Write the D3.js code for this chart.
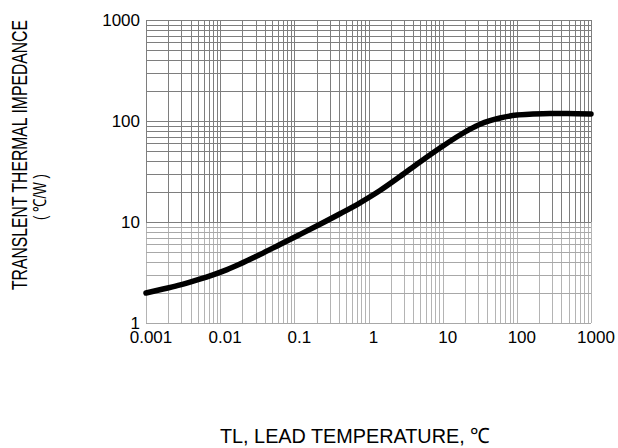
<!DOCTYPE html>
<html><head><meta charset="utf-8">
<script src="https://cdn.jsdelivr.net/npm/d3@7"></script>
<style>body{margin:0;background:#fff}svg{display:block}text{font-family:"Liberation Sans",Arial,sans-serif;fill:#000}</style>
</head><body>
<svg id="c" width="618" height="448"></svg>
<script>
const xTicks = [0.001, 0.01, 0.1, 1, 10, 100, 1000];
const xTickLabels = ["0.001", "0.01", "0.1", "1", "10", "100", "1000"];
const yTicks = [1, 10, 100, 1000];
const yTickLabels = ["1", "10", "100", "1000"];
const curveX = [0.001, 0.0017, 0.0029, 0.0049, 0.008, 0.0124, 0.0185, 0.0344, 0.064, 0.119, 0.222, 0.413, 0.768, 1.43, 2.66, 4.95, 9.2, 17.1, 23.4, 31.9, 43.5, 59.3, 100, 165, 280, 475, 1000];
const curveY = [1.98, 2.17, 2.38, 2.67, 3.0, 3.38, 3.84, 4.77, 5.99, 7.52, 9.49, 12.06, 15.5, 20.5, 28.2, 39.3, 54, 72.7, 83, 93, 100.9, 107, 114.7, 117.3, 118.7, 118.7, 117.3];
const yTitle = "TRANSLENT THERMAL IMPEDANCE";
const yUnit = "( \u2103/W )";
const xTitle = "TL, LEAD TEMPERATURE, \u2103";

const svg = d3.select("#c");
const L = 146, R = 591, T = 20, B = 323;
const x = d3.scaleLog().domain([0.001, 1000]).range([L, R]);
const y = d3.scaleLog().domain([1, 1000]).range([B, T]);

const xGrid = [];
for (let e = -3; e < 3; e++) for (let m = 1; m < 10; m++) xGrid.push(m * Math.pow(10, e));
xGrid.push(1000);
const yGrid = [];
for (let e = 0; e < 3; e++) for (let m = 1; m < 10; m++) yGrid.push(m * Math.pow(10, e));
yGrid.push(1000);

const g = svg.append("g").attr("shape-rendering", "crispEdges");
g.selectAll(".vl").data(xGrid).join("line")
  .attr("x1", d => Math.round(x(d)) + 0.5).attr("x2", d => Math.round(x(d)) + 0.5)
  .attr("y1", y(10)).attr("y2", B)
  .attr("stroke", "#b4b4b4").attr("stroke-width", 1);
g.selectAll(".vu").data(xGrid).join("line")
  .attr("x1", d => Math.round(x(d)) + 0.5).attr("x2", d => Math.round(x(d)) + 0.5)
  .attr("y1", T).attr("y2", y(10))
  .attr("stroke", "#7e7e7e").attr("stroke-width", 1);
g.selectAll(".hl").data(yGrid).join("line")
  .attr("x1", L).attr("x2", R)
  .attr("y1", d => Math.round(y(d)) + 0.5).attr("y2", d => Math.round(y(d)) + 0.5)
  .attr("stroke", d => d < 10 ? "#a8a8a8" : "#7e7e7e").attr("stroke-width", 1);

const pts = curveX.map((d, i) => [d, curveY[i]]);
svg.append("path").datum(pts)
  .attr("d", d3.line().x(d => x(d[0])).y(d => y(d[1])).curve(d3.curveMonotoneX))
  .attr("fill", "none").attr("stroke", "#000").attr("stroke-width", 5.5)
  .attr("stroke-linecap", "round").attr("stroke-linejoin", "round");

svg.selectAll(".xt").data(xTicks).join("text")
  .attr("x", d => x(d) + 5).attr("y", 343)
  .attr("text-anchor", "middle").attr("font-size", 17)
  .text((d, i) => xTickLabels[i]);
svg.selectAll(".yt").data(yTicks).join("text")
  .attr("x", 140).attr("y", d => y(d) + 6)
  .attr("text-anchor", "end").attr("font-size", 17)
  .text((d, i) => yTickLabels[i]);

svg.append("text").attr("transform", "translate(27,155) rotate(-90)")
  .attr("text-anchor", "middle").attr("font-size", 22)
  .attr("textLength", 270).attr("lengthAdjust", "spacingAndGlyphs")
  .text(yTitle);
svg.append("text").attr("transform", "translate(46,197) rotate(-90)")
  .attr("text-anchor", "middle").attr("font-size", 18)
  .attr("textLength", 46).attr("lengthAdjust", "spacingAndGlyphs")
  .text(yUnit);
svg.append("text").attr("x", 220).attr("y", 443)
  .attr("font-size", 21)
  .attr("textLength", 270).attr("lengthAdjust", "spacingAndGlyphs")
  .text(xTitle);
</script>
</body></html>
